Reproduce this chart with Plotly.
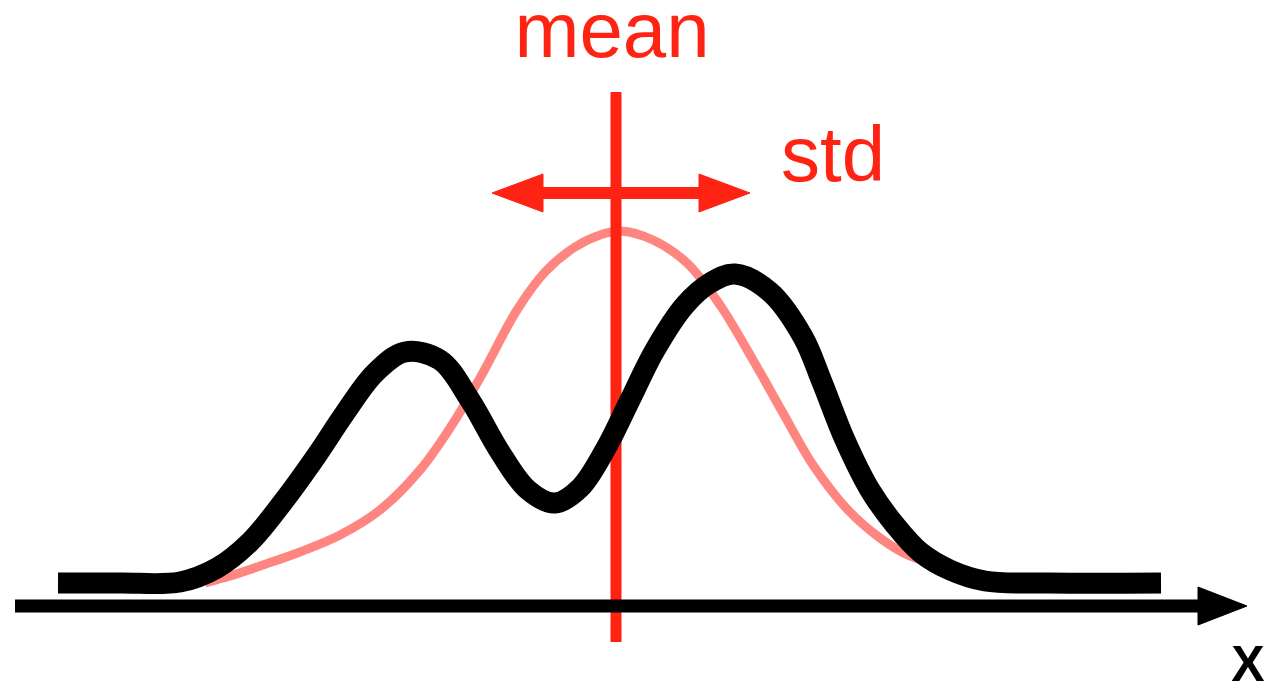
import plotly.graph_objects as go

# Units are screen-scale: x runs along the axis, h is height above the x axis.
# Bimodal distribution (black)
curve_x = [58, 120, 180, 217, 250, 283, 317, 345, 375, 405, 440, 470, 500, 528,
           555, 580, 605, 630, 655, 685, 710, 735, 770, 803, 822, 845, 870, 895,
           920, 950, 985, 1050, 1161]
curve_h = [23, 23, 24, 38, 64, 104, 151, 193, 233, 254, 246, 206, 154, 116,
           103, 118, 156, 206, 256, 301, 323, 332, 314, 269, 224, 166, 116, 81,
           54, 36, 25, 23, 23]

# Fitted normal curve (light red)
normal_x = [205, 230, 260, 300, 340, 380, 420, 450, 480, 517, 545, 575, 600, 620,
            653, 687, 720, 753, 783, 813, 848, 880, 910, 950, 1000]
normal_h = [23, 30, 40, 54, 71, 96, 136, 178, 228, 296, 334, 359, 371, 375,
            366, 343, 301, 246, 193, 141, 96, 68, 50, 38, 28]

# Mean marker and one-std span
mean_x = 616
mean_h = [-36, 514]
std_left, std_right = 492, 750
std_h = 413

# Horizontal axis
axis_start, axis_end = 15, 1247

RED = "#ff2314"
SALMON = "#ff8580"
HEAD_LEN, HEAD_HALF = 51, 19
FONT = "Liberation Sans, Arial, sans-serif"

fig = go.Figure()

fig.add_trace(go.Scatter(x=normal_x, y=normal_h, mode="lines",
                         line=dict(color=SALMON, width=9, shape="spline", smoothing=1.0)))

fig.add_trace(go.Scatter(x=[mean_x, mean_x], y=mean_h, mode="lines",
                         line=dict(color=RED, width=11)))

fig.add_trace(go.Scatter(x=curve_x, y=curve_h, mode="lines",
                         line=dict(color="black", width=21, shape="spline", smoothing=1.0)))

# x axis with arrowhead
fig.add_trace(go.Scatter(x=[axis_start, axis_end - HEAD_LEN + 4], y=[0, 0], mode="lines",
                         line=dict(color="black", width=13)))
fig.add_trace(go.Scatter(x=[axis_end - HEAD_LEN + 2, axis_end, axis_end - HEAD_LEN + 2, axis_end - HEAD_LEN + 2],
                         y=[HEAD_HALF, 0, -HEAD_HALF, HEAD_HALF], mode="lines", fill="toself",
                         fillcolor="black", line=dict(color="black", width=1)))

# std double arrow
fig.add_trace(go.Scatter(x=[std_left + HEAD_LEN - 6, std_right - HEAD_LEN + 6], y=[std_h, std_h],
                         mode="lines", line=dict(color=RED, width=12)))
for tip, sign in ((std_left, 1), (std_right, -1)):
    base = tip + sign * HEAD_LEN
    fig.add_trace(go.Scatter(x=[base, tip, base, base],
                             y=[std_h + HEAD_HALF, std_h, std_h - HEAD_HALF, std_h + HEAD_HALF],
                             mode="lines", fill="toself", fillcolor=RED,
                             line=dict(color=RED, width=1)))

# labels
fig.add_trace(go.Scatter(x=[612, 833], y=[569, 445], mode="text", text=["mean", "std"],
                         textposition="middle center",
                         textfont=dict(family=FONT, size=78, color=RED)))
fig.add_trace(go.Scatter(x=[1248], y=[-62], mode="text", text=["X"],
                         textposition="middle center",
                         textfont=dict(family=FONT, size=50, color="black", weight="bold")))

fig.update_layout(
    width=1269, height=693,
    margin=dict(l=0, r=0, t=0, b=0),
    paper_bgcolor="white", plot_bgcolor="white",
    showlegend=False,
    xaxis=dict(range=[0, 1269], visible=False, fixedrange=True),
    yaxis=dict(range=[-87, 606], visible=False, fixedrange=True),
)

fig.write_html("out.html")
